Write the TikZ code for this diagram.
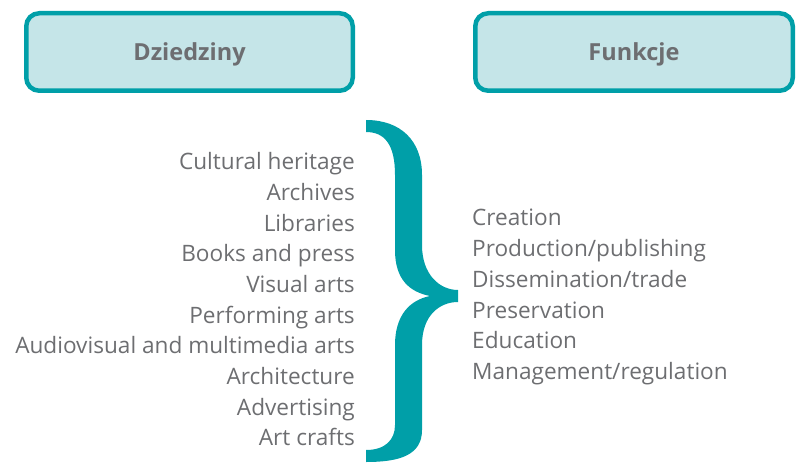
\documentclass[tikz,border=0pt]{standalone}
\usepackage{fontspec}
\setmainfont{Open Sans}
\definecolor{teal1}{HTML}{009FA8}
\definecolor{boxfill}{HTML}{C5E5E8}
\definecolor{txt}{HTML}{6D6E71}
\begin{document}
\begin{tikzpicture}[x=1pt,y=-1pt,
  hdr/.style={draw=teal1,fill=boxfill,line width=4.5pt,rounded corners=13pt,
    text=txt,text depth=0pt,font=\fontsize{23.5}{26}\selectfont\bfseries},
  item/.style={text=txt,font=\fontsize{22.6}{25}\selectfont,inner sep=0pt}]
\useasboundingbox (0,0) rectangle (797,465);
\node[hdr,minimum width=326.5pt,minimum height=77.5pt] (d) at (189.5,52) {Dziedziny};
\node[hdr,minimum width=317.5pt,minimum height=77.5pt] (f) at (634,52) {Funkcje};
% brace
\fill[teal1] (366,120) .. controls (400,120) and (422,140) .. (422,175)
  -- (422,245) .. controls (422,275) and (440,290) .. (458,290)
  -- (458,302) .. controls (440,302) and (422,315) .. (422,345)
  -- (422,430) .. controls (422,455) and (400,462) .. (366,462)
  -- (366,450) .. controls (385,450) and (395,440) .. (395,425)
  -- (395,345) .. controls (395,315) and (410,300) .. (430,296)
  .. controls (410,292) and (395,280) .. (395,250)
  -- (395,175) .. controls (395,145) and (385,132) .. (366,132) -- cycle;
\foreach \t [count=\i] in {Cultural heritage,Archives,Libraries,Books and press,Visual arts,Performing arts,Audiovisual and multimedia arts,Architecture,Advertising,Art crafts}
  \node[item,anchor=mid east] (l\i) at (355,{161+(\i-1)*30.7+6}) {\t};
\foreach \t [count=\i] in {Creation,Production/publishing,Dissemination/trade,Preservation,Education,Management/regulation}
  \node[item,anchor=mid west] (r\i) at (472,{217+(\i-1)*30.8+6}) {\t};
\end{tikzpicture}
\end{document}
